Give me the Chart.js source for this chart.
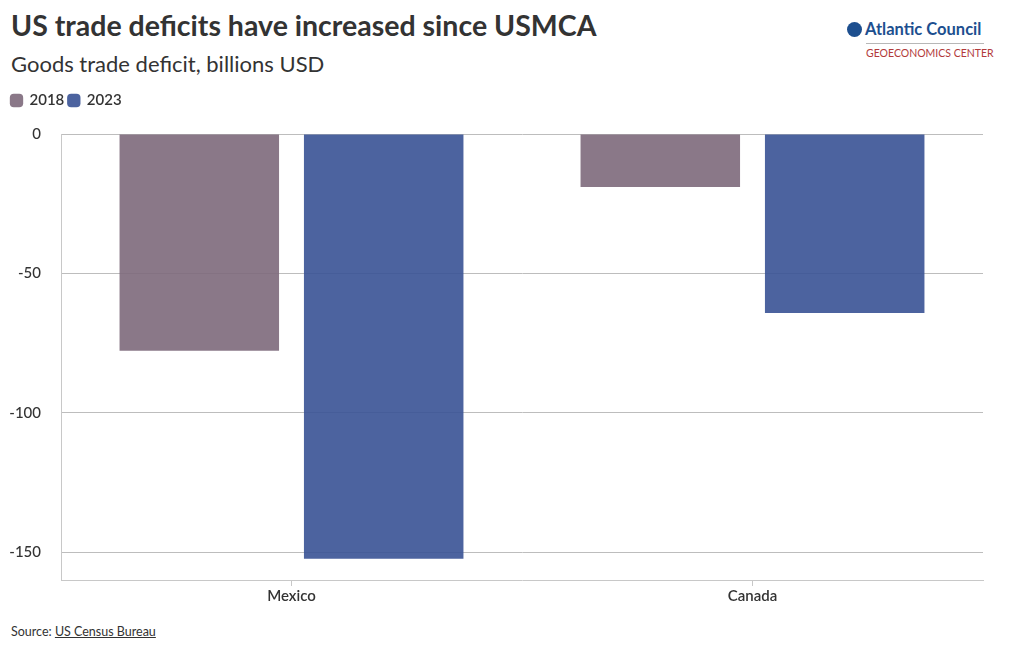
<!DOCTYPE html>
<html>
<head>
<meta charset="utf-8">
<script src="https://cdn.jsdelivr.net/npm/chart.js@4.4.0/dist/chart.umd.min.js"></script>
<style>
  body { margin: 0; background: #fff; font-family: Lato, "Open Sans", sans-serif; color: #333; }
  #wrap { position: relative; width: 1020px; height: 650px; overflow: hidden; }
  #title { position: absolute; left: 11px; top: 8px; font-size: 28.5px; font-weight: 700; color: #333; }
  #subtitle { position: absolute; left: 11px; top: 50px; font-size: 22px; color: #333; }
  #chartBox { position: absolute; left: 0; top: 89px; width: 1000px; height: 520px; }
  #source { position: absolute; left: 11px; top: 624px; font-size: 12.5px; color: #333; }
  #source u { text-decoration: underline; }
  #logo { position: absolute; left: 847px; top: 19px; width: 170px; white-space: nowrap; }
  #logo .name { font-size: 16.5px; font-weight: 700; color: #1d4f8f; display: flex; align-items: center; gap: 3px; }
  #logo .globe { width: 15px; height: 15px; border-radius: 50%; background: #1d4f8f; display: inline-block; }
  #logo .rule { height: 1px; background: #b7b7b7; margin: 4px 0 3px 19px; width: 118px; }
  #logo .sub { font-size: 10.5px; color: #b23a3a; margin-left: 19px; }
</style>
</head>
<body>
<div id="wrap">
  <div id="title">US trade deficits have increased since USMCA</div>
  <div id="subtitle">Goods trade deficit, billions USD</div>
  <div id="logo">
    <div class="name"><span class="globe"></span>Atlantic Council</div>
    <div class="rule"></div>
    <div class="sub">GEOECONOMICS CENTER</div>
  </div>
  <div id="chartBox"><canvas id="chart"></canvas></div>
  <div id="source">Source: <u>US Census Bureau</u></div>
</div>
<script>
const categories = ["Mexico", "Canada"];
const years = ["2018", "2023"];
const deficit2018 = [-77.8, -19.0];
const deficit2023 = [-152.4, -64.2];
const yTicks = [0, -50, -100, -150];

Chart.defaults.font.family = "Lato, 'Open Sans', sans-serif";
Chart.defaults.color = "#333";

// extra space under the legend
const legendGap = {
  id: "legendGap",
  beforeInit(chart) {
    const fit = chart.legend.fit;
    chart.legend.fit = function () {
      fit.bind(chart.legend)();
      this.height += 16;
    };
  }
};

new Chart(document.getElementById("chart"), {
  type: "bar",
  data: {
    labels: categories,
    datasets: [
      { label: years[0], data: deficit2018, backgroundColor: "rgba(125,105,123,0.9)" },
      { label: years[1], data: deficit2023, backgroundColor: "rgba(56,82,149,0.9)" }
    ]
  },
  options: {
    responsive: true,
    maintainAspectRatio: false,
    animation: false,
    layout: { padding: { left: 7, right: 17, top: 0, bottom: 0 } },
    datasets: { bar: { categoryPercentage: 0.8, barPercentage: 0.865 } },
    plugins: {
      legend: {
        position: "top",
        align: "start",
        labels: {
          usePointStyle: true,
          pointStyle: "rectRounded",
          boxWidth: 11,
          boxHeight: 11,
          padding: 4,
          font: { size: 15, weight: "600" },
          color: "#333"
        }
      },
      tooltip: { enabled: false }
    },
    scales: {
      x: {
        grid: { offset: false, drawOnChartArea: false, drawTicks: true, tickLength: 6, color: "#c8c8c8" },
        border: { color: "#c8c8c8" },
        ticks: { font: { size: 15, weight: "600" }, color: "#333", padding: 1 }
      },
      y: {
        min: -160,
        max: 0,
        afterBuildTicks: axis => { axis.ticks = yTicks.map(v => ({ value: v })); },
        afterFit: axis => { axis.width = 54; },
        grid: { color: "#bdbdbd", drawTicks: false },
        border: { color: "#c8c8c8" },
        ticks: { font: { size: 15, weight: "500" }, color: "#333", padding: 20 }
      }
    }
  },
  plugins: [legendGap]
});
</script>
</body>
</html>
